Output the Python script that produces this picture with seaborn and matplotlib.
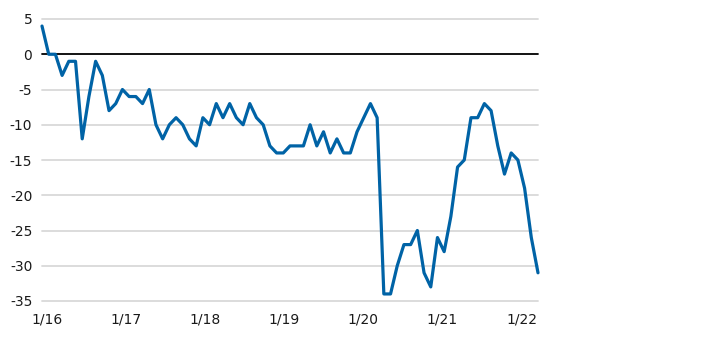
import matplotlib
matplotlib.use("Agg")
import matplotlib.pyplot as plt
import seaborn as sns
import pandas as pd
import numpy as np

# Monthly values, Jan 2016 .. Mar 2022
values = [4, 0, 0, -3, -1, -1, -12, -6, -1, -3, -8, -7,
          -5, -6, -6, -7, -5, -10, -12, -10, -9, -10, -12, -13,
          -9, -10, -7, -9, -7, -9, -10, -7, -9, -10, -13, -14,
          -14, -13, -13, -13, -10, -13, -11, -14, -12, -14, -14, -11,
          -9, -7, -9, -34, -34, -30, -27, -27, -25, -31, -33, -26,
          -28, -23, -16, -15, -9, -9, -7, -8, -13, -17, -14, -15,
          -19, -26, -31]
months = pd.date_range("2016-01-01", periods=len(values), freq="MS")
tick_labels = ["1/16", "1/17", "1/18", "1/19", "1/20", "1/21", "1/22"]
y_ticks = [5, 0, -5, -10, -15, -20, -25, -30, -35]

df = pd.DataFrame({"idx": np.arange(len(values)), "month": months, "value": values})

sns.set_theme(style="white")
plt.rcParams['font.family'] = ['DejaVu Sans']
plt.rcParams['axes.unicode_minus'] = False

W, H = 728, 337
fig = plt.figure(figsize=(W / 100, H / 100), dpi=100)
left, right, top, bottom = 42, 538, 19, 301
ax = fig.add_axes([left / W, (H - bottom) / H, (right - left) / W, (bottom - top) / H])

for yv in y_ticks:
    if yv == 0:
        continue
    ax.axhline(yv, color="#d9d9d9", lw=1.3, zorder=1)
ax.axhline(0, color="black", lw=1.3, zorder=2)

sns.lineplot(data=df, x="idx", y="value", ax=ax, color="#0063a6", lw=2.3, zorder=3)
for ln in ax.get_lines():
    ln.set_clip_on(False)

ax.set_xlim(0, len(values) - 1)
ax.set_ylim(-35, 5)
ax.set_yticks(y_ticks)
ax.set_yticklabels([str(v) for v in y_ticks])
tick_pos = [0.75 + 11.8 * k for k in range(len(tick_labels))]
ax.set_xticks(tick_pos)
ax.set_xticklabels(tick_labels)
ax.set_xlabel("")
ax.set_ylabel("")
ax.tick_params(axis="both", length=0, labelsize=10, colors="#1a1a1a")
ax.tick_params(axis="y", pad=7)
ax.tick_params(axis="x", pad=8)
for s in ax.spines.values():
    s.set_visible(False)
ax.grid(False)

fig.savefig("out.png", dpi=100)
